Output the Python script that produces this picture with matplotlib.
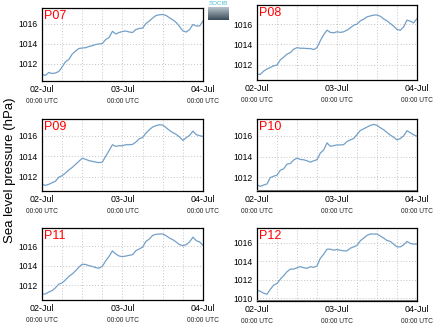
import numpy as np
import matplotlib
matplotlib.use("Agg")
import matplotlib.pyplot as plt
from matplotlib.colors import LinearSegmentedColormap
from matplotlib.ticker import MultipleLocator

plt.rcParams['font.family'] = ['Liberation Sans', 'DejaVu Sans']

# hourly sea level pressure (hPa), 02-Jul 00:00 UTC to 04-Jul 00:00 UTC
hours = np.arange(49)

stations = ["P07", "P08", "P09", "P10", "P11", "P12"]

p07 = [1010.92, 1010.80, 1011.10, 1011.00, 1011.05, 1011.20, 1011.66, 1012.17, 1012.40, 1012.94,
       1013.24, 1013.50, 1013.55, 1013.58, 1013.70, 1013.78, 1013.90, 1013.95, 1014.00, 1014.40,
       1014.60, 1015.22, 1014.95, 1015.10, 1015.20, 1015.25, 1015.15, 1015.10, 1015.40, 1015.50,
       1015.55, 1016.00, 1016.25, 1016.55, 1016.80, 1016.87, 1016.90, 1016.80, 1016.57, 1016.37,
       1016.10, 1015.70, 1015.26, 1015.15, 1015.40, 1015.90, 1015.75, 1015.76, 1016.24]
p08 = [1011.06, 1011.06, 1011.38, 1011.58, 1011.74, 1011.90, 1011.97, 1012.49, 1012.75, 1013.04,
       1013.20, 1013.53, 1013.69, 1013.63, 1013.63, 1013.60, 1013.60, 1013.50, 1013.69, 1014.37,
       1014.96, 1015.41, 1015.19, 1015.15, 1015.25, 1015.19, 1015.25, 1015.41, 1015.64, 1015.90,
       1016.00, 1016.33, 1016.49, 1016.72, 1016.81, 1016.90, 1016.90, 1016.78, 1016.52, 1016.33,
       1016.07, 1015.80, 1015.48, 1015.40, 1015.74, 1016.40, 1016.30, 1016.13, 1016.55]
p09 = [1011.25, 1011.15, 1011.25, 1011.41, 1011.55, 1011.95, 1012.10, 1012.35, 1012.65, 1012.90,
       1013.20, 1013.50, 1013.80, 1013.70, 1013.56, 1013.50, 1013.42, 1013.37, 1013.42, 1014.00,
       1014.55, 1015.12, 1014.96, 1015.02, 1015.02, 1015.12, 1015.12, 1015.15, 1015.38, 1015.70,
       1015.83, 1016.26, 1016.58, 1016.85, 1016.98, 1017.07, 1017.04, 1016.78, 1016.52, 1016.30,
       1016.13, 1015.87, 1015.54, 1015.80, 1016.03, 1016.45, 1016.10, 1016.00, 1015.93]
p10 = [1011.25, 1011.12, 1011.25, 1011.35, 1011.97, 1012.10, 1012.20, 1012.68, 1012.81, 1013.27,
       1013.33, 1013.66, 1013.85, 1013.72, 1013.69, 1013.59, 1013.46, 1013.59, 1013.69, 1014.34,
       1014.63, 1015.32, 1014.99, 1015.06, 1015.12, 1015.12, 1015.15, 1015.45, 1015.61, 1015.74,
       1016.13, 1016.52, 1016.68, 1016.85, 1017.01, 1017.11, 1017.01, 1016.78, 1016.59, 1016.33,
       1016.07, 1015.87, 1015.61, 1015.74, 1016.00, 1016.50, 1016.30, 1016.10, 1015.97]
p11 = [1011.12, 1011.12, 1011.32, 1011.46, 1011.75, 1012.12, 1012.25, 1012.55, 1012.90, 1013.15,
       1013.48, 1013.85, 1014.15, 1014.12, 1014.00, 1013.92, 1013.80, 1013.75, 1013.95, 1014.50,
       1014.95, 1015.50, 1015.19, 1014.98, 1014.92, 1014.98, 1015.05, 1015.12, 1015.53, 1015.69,
       1015.90, 1016.47, 1016.71, 1017.08, 1017.19, 1017.22, 1017.22, 1017.05, 1016.81, 1016.64,
       1016.41, 1016.14, 1016.03, 1016.14, 1016.41, 1016.90, 1016.54, 1016.41, 1016.07]
p12 = [1010.87, 1010.76, 1010.55, 1010.44, 1010.98, 1011.42, 1011.60, 1012.07, 1012.44, 1012.87,
       1013.16, 1013.16, 1013.31, 1013.42, 1013.31, 1013.24, 1013.42, 1013.35, 1013.49, 1014.33,
       1014.76, 1015.31, 1015.31, 1015.20, 1015.27, 1015.20, 1015.13, 1015.13, 1015.42, 1015.56,
       1015.71, 1016.22, 1016.51, 1016.80, 1016.95, 1016.95, 1016.95, 1016.73, 1016.51, 1016.25,
       1016.15, 1015.85, 1015.56, 1015.56, 1015.78, 1016.15, 1015.93, 1015.85, 1015.89]
series = [p07, p08, p09, p10, p11, p12]

tick_hours = [0, 24, 48]
tick_days = ["02-Jul", "03-Jul", "04-Jul"]
tick_times = ["00:00 UTC", "00:00 UTC", "00:00 UTC"]

W, H = 435, 327
# panel boxes in pixels: left, top, right, bottom
boxes = [(42, 8, 203, 81), (257, 5, 417, 80),
         (42, 119, 203, 191), (257, 119, 417, 191),
         (42, 228, 203, 300), (257, 228, 417, 301)]
ylims = [(1010.25, 1017.55), (1010.5, 1017.89), (1010.6, 1017.63),
         (1010.67, 1017.63), (1010.51, 1017.83), (1009.71, 1017.6)]
gray_bottom = [False, False, False, True, False, True]

line_color = "#73a0c9"
grid_kw = dict(color="#c4c4c4", ls=(0, (1, 2)), lw=0.7)

fig = plt.figure(figsize=(W / 100, H / 100), dpi=100)

for name, vals, (l, t, r, b), ylim, gb in zip(stations, series, boxes, ylims, gray_bottom):
    ax = fig.add_axes([l / W, 1 - b / H, (r - l) / W, (b - t) / H])
    ax.plot(hours, vals, color=line_color, lw=0.9)
    ax.set_xlim(0, 48)
    ax.set_ylim(*ylim)
    ax.yaxis.set_major_locator(MultipleLocator(2))
    ax.set_xticks(tick_hours)
    ax.set_xticklabels(tick_days, fontsize=6.4)
    ax.set_xticks(np.arange(0, 49, 6), minor=True)
    ax.tick_params(which="both", length=0, labelsize=6.2, pad=3)
    ax.tick_params(axis="x", labelsize=6.4)
    ax.grid(True, axis="y", **grid_kw)
    ax.grid(True, which="both", axis="x", **grid_kw)
    for h, s in zip(tick_hours, tick_times):
        ax.annotate(s, xy=(h, 0), xycoords=("data", "axes fraction"),
                    xytext=(0, -12), textcoords="offset points",
                    ha="center", va="top", fontsize=4.8, color="#222222")
    for sp in ax.spines.values():
        sp.set_color("black")
        sp.set_linewidth(0.9)
    if gb:
        # gray strip along the bottom edge
        ax.axhline(ylim[0], color="#6e6e6e", lw=2.2, zorder=4)
    ax.text(0.015, 0.97, name, transform=ax.transAxes, ha="left", va="top",
            fontsize=9, color="red")

fig.text(0.024, 0.48, "Sea level pressure (hPa)", rotation=90,
         ha="center", va="center", fontsize=9.5)

# small logo block in the top gap
lax = fig.add_axes([208 / W, 1 - 20 / H, 21 / W, 13 / H])
grad = np.linspace(0, 1, 50).reshape(-1, 1)
lax.imshow(grad, aspect="auto", extent=(0, 1, 0, 1),
           cmap=LinearSegmentedColormap.from_list("logo", ["#b8c4cc", "#3a4a57"]))
lax.axis("off")
fig.text(218.5 / W, 1 - 1 / H, "SOCIB", ha="center", va="top", fontsize=4.5,
         color="#3fc2d8")

fig.savefig("out.png", dpi=100)
